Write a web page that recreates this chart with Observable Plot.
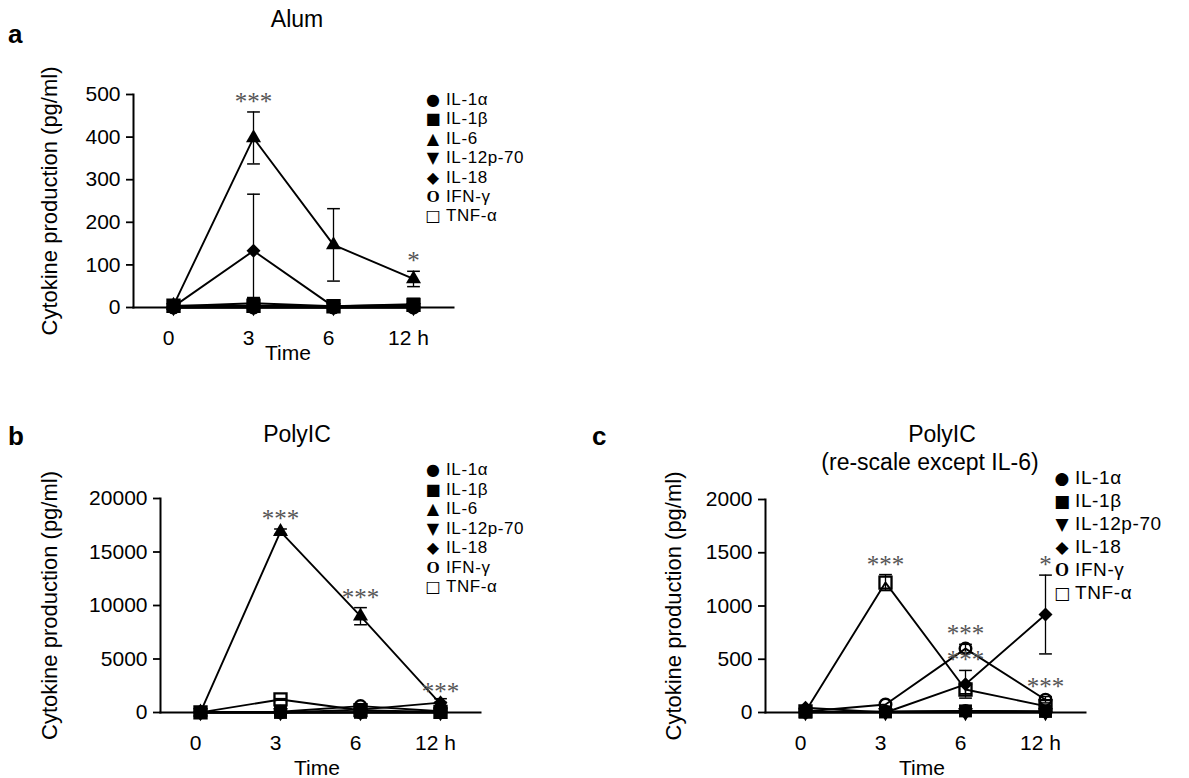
<!DOCTYPE html>
<html><head><meta charset="utf-8">
<script src="https://cdn.jsdelivr.net/npm/d3@7"></script>
<script src="https://cdn.jsdelivr.net/npm/@observablehq/plot@0.6"></script>
<style>
body{margin:0;background:#fff;font-family:"Liberation Sans",Arial,sans-serif;}
#root{position:relative;width:1189px;height:778px;overflow:hidden;background:#fff;}
.abs{position:absolute;white-space:nowrap;color:#000;line-height:1;transform:translate(-50%,-50%);}
.letter{font-weight:bold;font-size:26px;transform:translate(0,-50%);}
.title{font-size:23px;}
.leg{position:absolute;white-space:nowrap;line-height:0.85;transform:translate(-10px,-50%);}
.glyph{display:inline-block;width:20px;text-align:center;font-family:"DejaVu Sans";}
.o{font-family:"Liberation Serif";font-weight:bold;}
.plot{position:absolute;}
</style></head><body><div id="root"></div>
<script>
// ---------- data ----------
const times = ["0", "3", "6", "12 h"];
const cytokines = ["IL-1α", "IL-1β", "IL-6", "IL-12p-70", "IL-18", "IFN-γ", "TNF-α"];

// Alum: mean and error (pg/ml), rows in cytokine order
const alumMean = [
  [0, 2, 0, 2],
  [3, 10, 3, 8],
  [5, 398, 147, 67],
  [0, 0, 0, 0],
  [2, 133, 2, 2],
  [0, 0, 0, 0],
  [4, 4, 3, 6]
];
const alumErr = [
  [0, 0, 0, 0],
  [0, 0, 0, 0],
  [0, 61, 85, 18],
  [0, 0, 0, 0],
  [0, 133, 0, 0],
  [0, 0, 0, 0],
  [0, 0, 0, 0]
];
// PolyIC
const polyMean = [
  [5, 10, 15, 10],
  [5, 5, 15, 10],
  [30, 16900, 9000, 800],
  [0, 0, 0, 0],
  [45, 0, 265, 920],
  [10, 75, 600, 120],
  [10, 1220, 216, 60]
];
const polyErr = [
  [0, 0, 0, 0],
  [0, 0, 0, 0],
  [0, 250, 800, 150],
  [0, 0, 0, 0],
  [0, 0, 130, 370],
  [0, 0, 40, 30],
  [0, 75, 40, 0]
];
const alumTicks = [0, 100, 200, 300, 400, 500];
const polyTicks = [0, 5000, 10000, 15000, 20000];
const rescaleTicks = [0, 500, 1000, 1500, 2000];

const alumSig = [["IL-6", "3", "***"], ["IL-6", "12 h", "*"]];
const polySig = [["IL-6", "3", "***"], ["IL-6", "6", "***"], ["IL-6", "12 h", "***"]];
const rescaleSig = [["TNF-α", "3", "***"], ["IFN-γ", "6", "***"], ["IL-18", "6", "***"], ["IL-18", "12 h", "*"], ["IFN-γ", "12 h", "***"]];

// ---------- symbols ----------
const triDown = {draw(ctx, size) {
  const y = Math.sqrt(size / (Math.sqrt(3) * 3));
  ctx.moveTo(0, 2 * y); ctx.lineTo(-Math.sqrt(3) * y, -y); ctx.lineTo(Math.sqrt(3) * y, -y); ctx.closePath();
}};
const cap = {draw(ctx, size) {
  const w = Math.sqrt(size) / 2;
  ctx.moveTo(-w, 0); ctx.lineTo(w, 0);
}};
const symStyle = {
  "IL-1α": {symbol: "circle", r: 6.8, fill: "black", stroke: "none"},
  "IL-1β": {symbol: "square", r: 7.3, fill: "black", stroke: "none"},
  "IL-6": {symbol: "triangle", r: 5.6, fill: "black", stroke: "none"},
  "IL-12p-70": {symbol: triDown, r: 5.6, fill: "black", stroke: "none"},
  "IL-18": {symbol: "diamond2", r: 6.3, fill: "black", stroke: "none"},
  "IFN-γ": {symbol: "circle", r: 5.8, fill: "none", stroke: "black", strokeWidth: 2.4},
  "TNF-α": {symbol: "square", r: 6.8, fill: "none", stroke: "black", strokeWidth: 2.3}
};
const legendGlyph = {
  "IL-1α": "●", "IL-1β": "■", "IL-6": "▲", "IL-12p-70": "▼", "IL-18": "◆", "IFN-γ": "O", "TNF-α": "□"
};

const root = document.getElementById("root");
function addDiv(html, cls, x, y, extra) {
  const d = document.createElement("div");
  d.className = cls; d.innerHTML = html;
  d.style.left = x + "px"; d.style.top = y + "px";
  if (extra) Object.assign(d.style, extra);
  root.appendChild(d);
  return d;
}

function makePanel(o) {
  const rows = [];
  o.names.forEach(name => {
    const i = cytokines.indexOf(name);
    times.forEach((t, j) => rows.push({c: name, t, v: o.mean[i][j], e: o.err[i][j]}));
  });
  const errRows = rows.filter(d => d.e > 0);
  const sigRows = o.sig.map(([c, t, s]) => {
    const r = rows.find(d => d.c === c && d.t === t);
    return {t, y: r.v + r.e, s};
  });
  const marks = [
    Plot.ruleX(errRows, {x: "t", y1: d => d.v - d.e, y2: d => d.v + d.e, stroke: "black", strokeWidth: 1.3}),
    Plot.dot(errRows, {x: "t", y: d => d.v + d.e, symbol: cap, r: 7.2, fill: "none", stroke: "black", strokeWidth: 1.5}),
    Plot.dot(errRows.filter(d => d.v - d.e > 0), {x: "t", y: d => d.v - d.e, symbol: cap, r: 7.2, fill: "none", stroke: "black", strokeWidth: 1.5}),
    Plot.line(rows, {x: "t", y: "v", z: "c", stroke: "black", strokeWidth: 1.9}),
    ...o.names.slice().reverse().map(name => {
      const s = symStyle[name];
      return Plot.dot(rows.filter(d => d.c === name), {x: "t", y: "v", symbol: s.symbol, r: s.r, fill: s.fill, stroke: s.stroke, strokeWidth: s.strokeWidth || 1});
    }),
    Plot.frame({anchor: "left", strokeWidth: 2}),
    Plot.frame({anchor: "bottom", strokeWidth: 2}),
    Plot.axisY({ticks: o.ticks, tickSize: 7, tickPadding: 6, strokeWidth: 1.8, fontSize: 21, tickFormat: d => String(d),
      label: null}),
    Plot.axisY({ticks: [], tickSize: 0, fontSize: 22,
      label: "Cytokine production (pg/ml)", labelAnchor: "center", labelOffset: o.labelOffset, labelArrow: "none"}),
    Plot.axisX({tickSize: 0, tickPadding: 23, fontSize: 21, dx: -5, label: null}),
    Plot.text(sigRows, {x: "t", y: "y", text: "s", fontFamily: "Liberation Serif", fontSize: 25, fill: "#555", dy: -10})
  ];
  const svg = Plot.plot({
    width: o.width, height: o.height,
    marginLeft: o.marginLeft, marginTop: o.marginTop, marginBottom: o.marginBottom, marginRight: 10,
    x: {type: "point", domain: times, padding: 0.5},
    y: {domain: [0, o.yMax], nice: false},
    style: {fontFamily: "Liberation Sans, Arial, sans-serif", fontSize: "21px", color: "black", background: "transparent", overflow: "visible"},
    marks
  });
  svg.classList.add("plot");
  svg.style.left = o.left + "px"; svg.style.top = o.top + "px";
  root.appendChild(svg);
}

function makeLegend(names, x, y0, step, fontSize, glyphSize) {
  names.forEach((n, i) => {
    const g = n === "IFN-γ" ? `<span class="glyph o" style="font-size:${glyphSize + 1}px">O</span>`
      : `<span class="glyph" style="font-size:${glyphSize}px">${legendGlyph[n]}</span>`;
    addDiv(`${g}<span style="font-size:${fontSize}px;margin-left:3px;letter-spacing:0.6px">${n}</span>`, "leg", x, y0 + i * step);
  });
}

// Panel a
makePanel({mean: alumMean, err: alumErr, names: cytokines, ticks: alumTicks, yMax: 500, sig: alumSig,
  left: 0, top: 60, width: 463, height: 307, marginLeft: 133, marginTop: 34, marginBottom: 60, labelOffset: 92});
// Panel b
makePanel({mean: polyMean, err: polyErr, names: cytokines, ticks: polyTicks, yMax: 20000, sig: polySig,
  left: 0, top: 460, width: 490, height: 318, marginLeft: 160, marginTop: 38, marginBottom: 66, labelOffset: 119});
// Panel c
const rescaleNames = cytokines.filter(c => c !== "IL-6");
makePanel({mean: polyMean, err: polyErr, names: rescaleNames, ticks: rescaleTicks, yMax: 2000, sig: rescaleSig,
  left: 600, top: 460, width: 495, height: 318, marginLeft: 165, marginTop: 39, marginBottom: 66, labelOffset: 100});

// titles & labels
addDiv("a", "abs letter", 8, 34);
addDiv("b", "abs letter", 8, 436);
addDiv("c", "abs letter", 592, 436);
addDiv("Alum", "abs title", 297, 19);
addDiv("PolyIC", "abs title", 297, 434);
addDiv("PolyIC", "abs title", 942, 434);
addDiv("(re-scale except IL-6)", "abs title", 930, 462);
addDiv("Time", "abs title", 288, 352, {fontSize: "21px"});
addDiv("Time", "abs title", 317, 767, {fontSize: "21px"});
addDiv("Time", "abs title", 922, 767, {fontSize: "21px"});

makeLegend(cytokines, 433, 100, 19.4, 17, 16);
makeLegend(cytokines, 433, 470, 19.5, 17, 16);
makeLegend(rescaleNames, 1062, 478, 23, 19, 17);
</script>
</body></html>
